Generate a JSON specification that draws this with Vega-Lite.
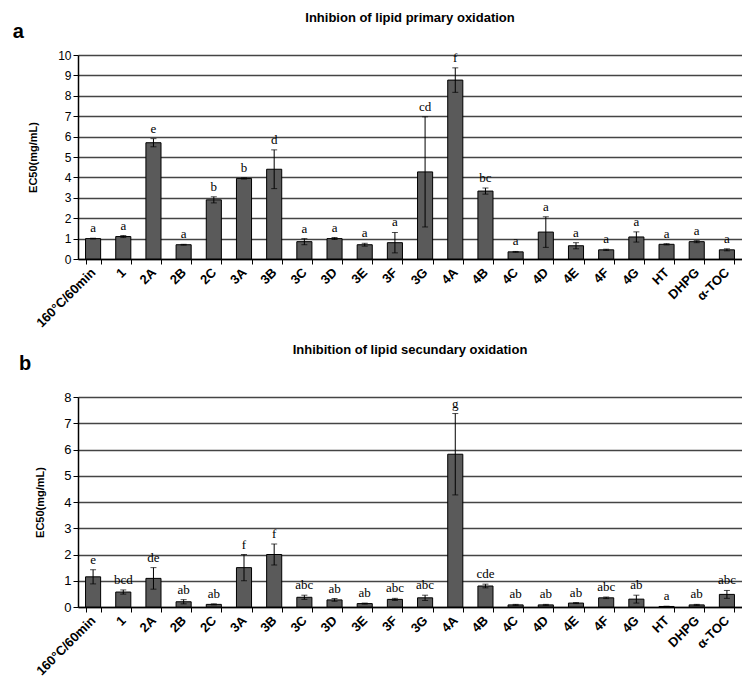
{
  "$schema": "https://vega.github.io/schema/vega-lite/v6.json",
  "padding": {"left": 12, "top": 12, "right": 0, "bottom": 0},
  "background": "white",
  "config": {
    "view": {"stroke": null},
    "font": "Liberation Sans",
    "title": {"font": "Liberation Sans", "fontWeight": "bold", "color": "black"},
    "axis": {"labelFont": "Liberation Sans", "labelColor": "black", "titleColor": "black", "domainColor": "black", "tickColor": "black"},
    "text": {"fill": "black", "color": "black"}
  },
  "spacing": 14,
  "vconcat": [
    {
      "title": {"text": "a", "anchor": "start", "fontSize": 20, "offset": -30, "dx": -15},
      "vconcat": [
        {
          "title": {"text": "Inhibion of lipid primary oxidation", "fontSize": 13, "offset": 24},
          "width": 664,
          "height": 204,
          "data": {"values": [
            {"s": "160°C/60min", "v": 1.0, "e": 0.02, "l": "a"},
            {"s": "1", "v": 1.1, "e": 0.05, "l": "a"},
            {"s": "2A", "v": 5.7, "e": 0.2, "l": "e"},
            {"s": "2B", "v": 0.7, "e": 0.02, "l": "a"},
            {"s": "2C", "v": 2.9, "e": 0.15, "l": "b"},
            {"s": "3A", "v": 3.95, "e": 0.03, "l": "b"},
            {"s": "3B", "v": 4.4, "e": 0.95, "l": "d"},
            {"s": "3C", "v": 0.85, "e": 0.15, "l": "a"},
            {"s": "3D", "v": 1.0, "e": 0.05, "l": "a"},
            {"s": "3E", "v": 0.7, "e": 0.07, "l": "a"},
            {"s": "3F", "v": 0.8, "e": 0.5, "l": "a"},
            {"s": "3G", "v": 4.27, "e": 2.7, "l": "cd"},
            {"s": "4A", "v": 8.77, "e": 0.6, "l": "f"},
            {"s": "4B", "v": 3.33, "e": 0.15, "l": "bc"},
            {"s": "4C", "v": 0.35, "e": 0.02, "l": "a"},
            {"s": "4D", "v": 1.32, "e": 0.75, "l": "a"},
            {"s": "4E", "v": 0.65, "e": 0.15, "l": "a"},
            {"s": "4F", "v": 0.45, "e": 0.03, "l": "a"},
            {"s": "4G", "v": 1.08, "e": 0.25, "l": "a"},
            {"s": "HT", "v": 0.72, "e": 0.03, "l": "a"},
            {"s": "DHPG", "v": 0.85, "e": 0.05, "l": "a"},
            {"s": "α-TOC", "v": 0.45, "e": 0.05, "l": "a"}
          ]},
          "encoding": {
            "x": {"field": "s", "type": "nominal", "sort": null,
                  "scale": {"paddingInner": 0.5, "paddingOuter": 0.25},
                  "axis": {"title": null, "labelAngle": -45, "labelAlign": "right", "labelBaseline": "middle", "labelFontSize": 13, "labelFontWeight": "bold", "tickBand": "extent", "tickSize": 5, "domainWidth": 1.5, "labelPadding": 6}}
          },
          "layer": [
            {
              "mark": {"type": "bar", "color": "#5a5a5a", "stroke": "black", "strokeWidth": 1},
              "encoding": {
                "y": {"field": "v", "type": "quantitative", "title": "EC50(mg/mL)",
                      "scale": {"domain": [0, 10]},
                      "axis": {"titleFontSize": 11, "titleFontWeight": "bold", "titlePadding": 19, "values": [0,1,2,3,4,5,6,7,8,9,10], "labelFontSize": 12, "labelOverlap": false, "grid": true, "gridColor": "#444444", "gridWidth": 1.3, "domainWidth": 1.5, "tickSize": 5}}
              }
            },
            {
              "mark": {"type": "errorbar", "ticks": {"size": 6, "color": "black"}, "color": "black", "strokeWidth": 1},
              "encoding": {
                "y": {"field": "v", "type": "quantitative", "title": "EC50(mg/mL)",
                      "axis": {"titleFontSize": 11, "titleFontWeight": "bold", "titlePadding": 19, "values": [0,1,2,3,4,5,6,7,8,9,10], "labelFontSize": 12, "labelOverlap": false, "grid": true, "gridColor": "#444444", "gridWidth": 1.3, "domainWidth": 1.5, "tickSize": 5}},
                "yError": {"field": "e"}
              }
            },
            {
              "transform": [{"calculate": "datum.v + datum.e", "as": "hi"}],
              "mark": {"type": "text", "font": "Liberation Serif", "fontSize": 13, "baseline": "bottom", "dy": -3, "fill": "black"},
              "encoding": {
                "y": {"field": "hi", "type": "quantitative", "title": "EC50(mg/mL)",
                      "axis": {"titleFontSize": 11, "titleFontWeight": "bold", "titlePadding": 19, "values": [0,1,2,3,4,5,6,7,8,9,10], "labelFontSize": 12, "labelOverlap": false, "grid": true, "gridColor": "#444444", "gridWidth": 1.3, "domainWidth": 1.5, "tickSize": 5}},
                "text": {"field": "l"}
              }
            }
          ]
        }
      ]
    },
    {
      "title": {"text": "b", "anchor": "start", "fontSize": 20, "offset": -30, "dx": -15},
      "vconcat": [
        {
          "title": {"text": "Inhibition of lipid secundary oxidation", "fontSize": 13, "offset": 34},
          "width": 664,
          "height": 210,
          "data": {"values": [
            {"s": "160°C/60min", "v": 1.15, "e": 0.27, "l": "e"},
            {"s": "1", "v": 0.57, "e": 0.08, "l": "bcd"},
            {"s": "2A", "v": 1.09, "e": 0.41, "l": "de"},
            {"s": "2B", "v": 0.2, "e": 0.08, "l": "ab"},
            {"s": "2C", "v": 0.1, "e": 0.02, "l": "ab"},
            {"s": "3A", "v": 1.5, "e": 0.5, "l": "f"},
            {"s": "3B", "v": 2.0, "e": 0.4, "l": "f"},
            {"s": "3C", "v": 0.37, "e": 0.08, "l": "abc"},
            {"s": "3D", "v": 0.27, "e": 0.05, "l": "ab"},
            {"s": "3E", "v": 0.13, "e": 0.02, "l": "ab"},
            {"s": "3F", "v": 0.29, "e": 0.04, "l": "abc"},
            {"s": "3G", "v": 0.35, "e": 0.1, "l": "abc"},
            {"s": "4A", "v": 5.82, "e": 1.55, "l": "g"},
            {"s": "4B", "v": 0.8, "e": 0.07, "l": "cde"},
            {"s": "4C", "v": 0.08, "e": 0.02, "l": "ab"},
            {"s": "4D", "v": 0.08, "e": 0.02, "l": "ab"},
            {"s": "4E", "v": 0.15, "e": 0.02, "l": "ab"},
            {"s": "4F", "v": 0.35, "e": 0.03, "l": "abc"},
            {"s": "4G", "v": 0.3, "e": 0.15, "l": "ab"},
            {"s": "HT", "v": 0.02, "e": 0.01, "l": "a"},
            {"s": "DHPG", "v": 0.08, "e": 0.02, "l": "ab"},
            {"s": "α-TOC", "v": 0.48, "e": 0.15, "l": "abc"}
          ]},
          "encoding": {
            "x": {"field": "s", "type": "nominal", "sort": null,
                  "scale": {"paddingInner": 0.5, "paddingOuter": 0.25},
                  "axis": {"title": null, "labelAngle": -45, "labelAlign": "right", "labelBaseline": "middle", "labelFontSize": 13, "labelFontWeight": "bold", "tickBand": "extent", "tickSize": 5, "domainWidth": 1.5, "labelPadding": 6}}
          },
          "layer": [
            {
              "mark": {"type": "bar", "color": "#5a5a5a", "stroke": "black", "strokeWidth": 1},
              "encoding": {
                "y": {"field": "v", "type": "quantitative", "title": "EC50(mg/mL)",
                      "scale": {"domain": [0, 8]},
                      "axis": {"titleFontSize": 11, "titleFontWeight": "bold", "titlePadding": 18, "values": [0,1,2,3,4,5,6,7,8], "labelFontSize": 13, "labelOverlap": false, "grid": true, "gridColor": "#444444", "gridWidth": 1.3, "domainWidth": 1.5, "tickSize": 5}}
              }
            },
            {
              "mark": {"type": "errorbar", "ticks": {"size": 6, "color": "black"}, "color": "black", "strokeWidth": 1},
              "encoding": {
                "y": {"field": "v", "type": "quantitative", "title": "EC50(mg/mL)",
                      "axis": {"titleFontSize": 11, "titleFontWeight": "bold", "titlePadding": 18, "values": [0,1,2,3,4,5,6,7,8], "labelFontSize": 13, "labelOverlap": false, "grid": true, "gridColor": "#444444", "gridWidth": 1.3, "domainWidth": 1.5, "tickSize": 5}},
                "yError": {"field": "e"}
              }
            },
            {
              "transform": [{"calculate": "datum.v + datum.e", "as": "hi"}],
              "mark": {"type": "text", "font": "Liberation Serif", "fontSize": 13, "baseline": "bottom", "dy": -3, "fill": "black"},
              "encoding": {
                "y": {"field": "hi", "type": "quantitative", "title": "EC50(mg/mL)",
                      "axis": {"titleFontSize": 11, "titleFontWeight": "bold", "titlePadding": 18, "values": [0,1,2,3,4,5,6,7,8], "labelFontSize": 13, "labelOverlap": false, "grid": true, "gridColor": "#444444", "gridWidth": 1.3, "domainWidth": 1.5, "tickSize": 5}},
                "text": {"field": "l"}
              }
            }
          ]
        }
      ]
    }
  ]
}
